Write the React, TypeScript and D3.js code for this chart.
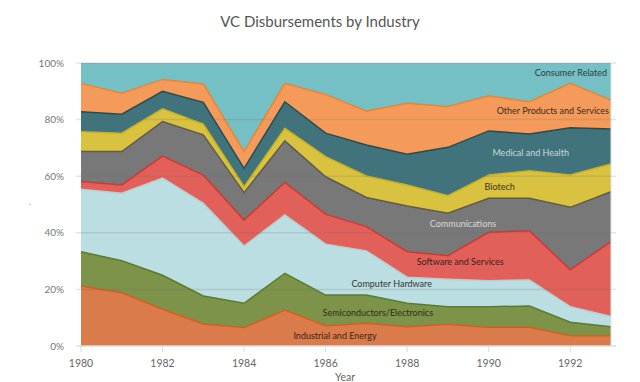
import React from "react";
import * as d3 from "d3";

const years = [1980, 1981, 1982, 1983, 1984, 1985, 1986, 1987, 1988, 1989, 1990, 1991, 1992, 1993];
const industrial = [21.2, 18.8, 13.0, 7.8, 6.5, 12.7, 7.2, 8.0, 6.8, 7.7, 6.6, 6.6, 3.6, 3.6];
const semiconductors = [12.1, 11.3, 12.0, 9.9, 8.6, 13.0, 10.8, 10.0, 8.3, 6.2, 7.3, 7.5, 4.8, 3.2];
const hardware = [22.1, 23.9, 34.3, 32.7, 20.2, 20.6, 18.0, 15.6, 9.2, 9.7, 9.2, 9.2, 5.5, 3.6];
const software = [2.7, 2.9, 7.8, 10.0, 9.2, 11.5, 10.6, 8.6, 9.0, 8.3, 17.1, 17.4, 13.0, 26.5];
const communications = [10.6, 11.8, 12.2, 14.2, 9.7, 14.7, 13.2, 10.3, 16.2, 15.0, 12.0, 11.5, 22.1, 17.6];
const biotech = [7.0, 6.5, 4.5, 3.8, 2.1, 4.4, 7.1, 7.6, 7.4, 6.2, 8.2, 9.7, 11.4, 9.8];
const medical = [7.1, 6.7, 6.2, 7.7, 6.5, 9.4, 8.3, 10.9, 10.9, 17.1, 15.6, 13.0, 16.7, 12.4];
const other = [10.0, 7.4, 4.2, 6.5, 5.9, 6.5, 13.7, 12.0, 18.0, 14.4, 12.4, 11.4, 15.7, 10.2];
const consumer = [7.2, 10.7, 5.8, 7.4, 31.3, 7.2, 11.1, 17.0, 14.2, 15.4, 11.6, 13.7, 7.2, 13.1];

const seriesNames = [
  "Industrial and Energy",
  "Semiconductors/Electronics",
  "Computer Hardware",
  "Software and Services",
  "Communications",
  "Biotech",
  "Medical and Health",
  "Other Products and Services",
  "Consumer Related",
];
const seriesValues = [industrial, semiconductors, hardware, software, communications, biotech, medical, other, consumer];

const fills = ["#da7b4b", "#7e934a", "#badee1", "#e2605a", "#787878", "#d9c23f", "#40737c", "#f49b5b", "#74c0c4"];
const strokes = ["#e0591c", "#5d7c22", "#aad5d9", "#d9342b", "#5a5a5a", "#cfb014", "#1b4f5c", "#f58025", "#74c0c4"];

const xTicks = [1980, 1982, 1984, 1986, 1988, 1990, 1992];
const yTicks = [0, 0.2, 0.4, 0.6, 0.8, 1];

// label placement: [series index, year position, share position, anchor, color]
const labels: [number, number, number, string, string][] = [
  [8, 1992.9, 0.965, "end", "#2f3b40"],
  [7, 1992.95, 0.83, "end", "#3a2a20"],
  [6, 1991.03, 0.682, "middle", "#c9dadd"],
  [5, 1990.27, 0.562, "middle", "#3a3520"],
  [4, 1989.37, 0.431, "middle", "#d8d8d8"],
  [3, 1989.3, 0.297, "middle", "#3a2020"],
  [2, 1987.62, 0.219, "middle", "#333"],
  [1, 1987.28, 0.117, "middle", "#2a3018"],
  [0, 1986.23, 0.035, "middle", "#3a2418"],
];

export default function App() {
  const W = 640, H = 382;
  const x = d3.scaleLinear().domain([1980, 1993]).range([81, 611]);
  const y = d3.scaleLinear().domain([0, 1]).range([346, 63]);

  const table = years.map((yr, i) => {
    const row: any = { year: yr };
    seriesNames.forEach((n, s) => (row[n] = seriesValues[s][i]));
    return row;
  });
  const stack = d3.stack<any>().keys(seriesNames).offset(d3.stackOffsetExpand);
  const layers = stack(table);

  const area = d3
    .area<any>()
    .x((d) => x(d.data.year))
    .y0((d) => y(d[0]))
    .y1((d) => y(d[1]));
  const line = d3
    .line<any>()
    .x((d) => x(d.data.year))
    .y((d) => y(d[1]));

  const font = "Lato, 'Open Sans', sans-serif";

  return (
    <svg width={W} height={H} style={{ position: "absolute", left: 0, top: 0 }} fontFamily={font}>
      <rect width={W} height={H} fill="#fff" />
      <text x={320} y={27} textAnchor="middle" fontSize={15} fill="#555">
        VC Disbursements by Industry
      </text>
      {layers.map((l, i) => (
        <path key={"a" + i} d={area(l) || ""} fill={fills[i]} />
      ))}
      {layers.map((l, i) =>
        i < 8 ? <path key={"l" + i} d={line(l) || ""} fill="none" stroke={strokes[i]} strokeWidth={1.5} /> : null
      )}
      {yTicks.map((t) => (
        <g key={"g" + t}>
          <line x1={76} x2={616} y1={y(t)} y2={y(t)} stroke={t === 0 ? "#cfe0e6" : "#6a6a6a"} strokeOpacity={t === 0 ? 1 : 0.18} strokeWidth={1.5} />
          <text x={64} y={y(t) + 3.5} textAnchor="end" fontSize={10} fill="#777">
            {Math.round(t * 100) + "%"}
          </text>
        </g>
      ))}
      <line x1={x(1993)} x2={x(1993)} y1={63} y2={346} stroke="#d8e6ea" strokeWidth={1} />
      {xTicks.map((t) => (
        <g key={"x" + t}>
          <line x1={x(t)} x2={x(t)} y1={346} y2={352} stroke="#cfe0e6" strokeWidth={1} />
          <text x={x(t)} y={367} textAnchor="middle" fontSize={10.5} fill="#666">
            {t}
          </text>
        </g>
      ))}
      <text x={345} y={381} textAnchor="middle" fontSize={10.5} fill="#666">
        Year
      </text>
      <text x={30} y={205} textAnchor="middle" fontSize={8} fill="#777">
        .
      </text>
      {labels.map(([s, yr, share, anchor, color]) => (
        <text key={"t" + s} x={x(yr)} y={y(share) + 3} textAnchor={anchor as any} fontSize={9} fill={color}>
          {seriesNames[s]}
        </text>
      ))}
    </svg>
  );
}
